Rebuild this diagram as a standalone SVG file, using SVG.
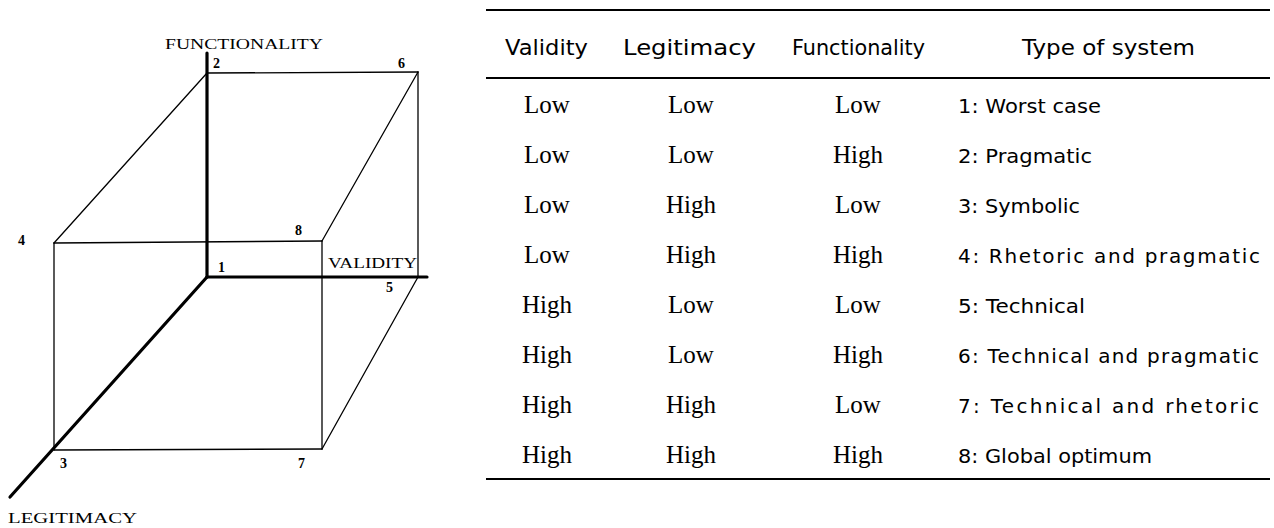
<svg xmlns="http://www.w3.org/2000/svg" width="1274" height="528" viewBox="0 0 1274 528">
<style>
.thin{stroke:#000;stroke-width:1.3;fill:none;stroke-linecap:round}
.axis{stroke:#000;stroke-width:3.2;fill:none;stroke-linecap:round}
.rule{stroke:#000;stroke-width:2}
.lab{font-family:"Liberation Serif",serif;font-size:15px;fill:#000}
.num{font-family:"Liberation Serif",serif;font-size:14px;font-weight:bold;fill:#000}
.hd{font-family:"DejaVu Sans",sans-serif;font-size:21px;fill:#000}
.cell{font-family:"Liberation Serif",serif;font-size:25px;fill:#000;text-anchor:middle}
.typ{font-family:"DejaVu Sans",sans-serif;font-size:20px;fill:#000}
</style>
<rect width="1274" height="528" fill="#fff"/>
<g id="cube">
  <g id="edges">
    <line class="thin" x1="207" y1="73" x2="418" y2="72"/>
    <line class="thin" x1="418" y1="72" x2="418" y2="277"/>
    <line class="thin" x1="207" y1="73" x2="54" y2="243"/>
    <line class="thin" x1="54" y1="243" x2="322" y2="241"/>
    <line class="thin" x1="418" y1="72" x2="322" y2="241"/>
    <line class="thin" x1="54" y1="243" x2="54" y2="450"/>
    <line class="thin" x1="322" y1="241" x2="322" y2="449"/>
    <line class="thin" x1="54" y1="450" x2="322" y2="449"/>
    <line class="thin" x1="322" y1="449" x2="418" y2="277"/>
  </g>
  <g id="axes">
    <line class="axis" x1="207" y1="53" x2="207" y2="277"/>
    <line class="axis" x1="207" y1="277" x2="427" y2="277"/>
    <line class="axis" x1="207" y1="277" x2="10" y2="497"/>
  </g>
  <g id="axis-labels">
    <text class="lab" x="165" y="49" textLength="158" lengthAdjust="spacingAndGlyphs">FUNCTIONALITY</text>
    <text class="lab" x="328" y="268" textLength="89" lengthAdjust="spacingAndGlyphs">VALIDITY</text>
    <text class="lab" x="8" y="523" textLength="129" lengthAdjust="spacingAndGlyphs">LEGITIMACY</text>
  </g>
  <g id="vertex-labels">
    <text class="num" x="213" y="68">2</text>
    <text class="num" x="398" y="68">6</text>
    <text class="num" x="18" y="245">4</text>
    <text class="num" x="295" y="235">8</text>
    <text class="num" x="218" y="272">1</text>
    <text class="num" x="386" y="292">5</text>
    <text class="num" x="60" y="468">3</text>
    <text class="num" x="298" y="468">7</text>
  </g>
</g>
<g id="table">
  <line class="rule" x1="486" y1="10" x2="1270" y2="10"/>
  <line class="rule" x1="486" y1="78" x2="1270" y2="78"/>
  <line class="rule" x1="486" y1="479" x2="1270" y2="479"/>
  <g id="header">
    <text class="hd" x="505" y="55" textLength="83" lengthAdjust="spacingAndGlyphs">Validity</text>
    <text class="hd" x="623" y="55" textLength="133" lengthAdjust="spacingAndGlyphs">Legitimacy</text>
    <text class="hd" x="792" y="55" textLength="133" lengthAdjust="spacingAndGlyphs">Functionality</text>
    <text class="hd" x="1022" y="55" textLength="173" lengthAdjust="spacingAndGlyphs">Type of system</text>
  </g>
  <g id="rows">
    <text class="cell" x="547" y="113">Low</text><text class="cell" x="691" y="113">Low</text><text class="cell" x="858" y="113">Low</text>
    <text class="typ" x="958" y="113" textLength="143" lengthAdjust="spacingAndGlyphs">1: Worst case</text>
    <text class="cell" x="547" y="163">Low</text><text class="cell" x="691" y="163">Low</text><text class="cell" x="858" y="163">High</text>
    <text class="typ" x="958" y="163" textLength="134" lengthAdjust="spacingAndGlyphs">2: Pragmatic</text>
    <text class="cell" x="547" y="213">Low</text><text class="cell" x="691" y="213">High</text><text class="cell" x="858" y="213">Low</text>
    <text class="typ" x="958" y="213" textLength="122" lengthAdjust="spacingAndGlyphs">3: Symbolic</text>
    <text class="cell" x="547" y="263">Low</text><text class="cell" x="691" y="263">High</text><text class="cell" x="858" y="263">High</text>
    <text class="typ" x="958" y="263" textLength="302" lengthAdjust="spacing">4: Rhetoric and pragmatic</text>
    <text class="cell" x="547" y="313">High</text><text class="cell" x="691" y="313">Low</text><text class="cell" x="858" y="313">Low</text>
    <text class="typ" x="958" y="313" textLength="127" lengthAdjust="spacingAndGlyphs">5: Technical</text>
    <text class="cell" x="547" y="363">High</text><text class="cell" x="691" y="363">Low</text><text class="cell" x="858" y="363">High</text>
    <text class="typ" x="958" y="363" textLength="301" lengthAdjust="spacing">6: Technical and pragmatic</text>
    <text class="cell" x="547" y="413">High</text><text class="cell" x="691" y="413">High</text><text class="cell" x="858" y="413">Low</text>
    <text class="typ" x="958" y="413" textLength="301" lengthAdjust="spacing">7: Technical and rhetoric</text>
    <text class="cell" x="547" y="463">High</text><text class="cell" x="691" y="463">High</text><text class="cell" x="858" y="463">High</text>
    <text class="typ" x="958" y="463" textLength="194" lengthAdjust="spacingAndGlyphs">8: Global optimum</text>
  </g>
</g>
</svg>
